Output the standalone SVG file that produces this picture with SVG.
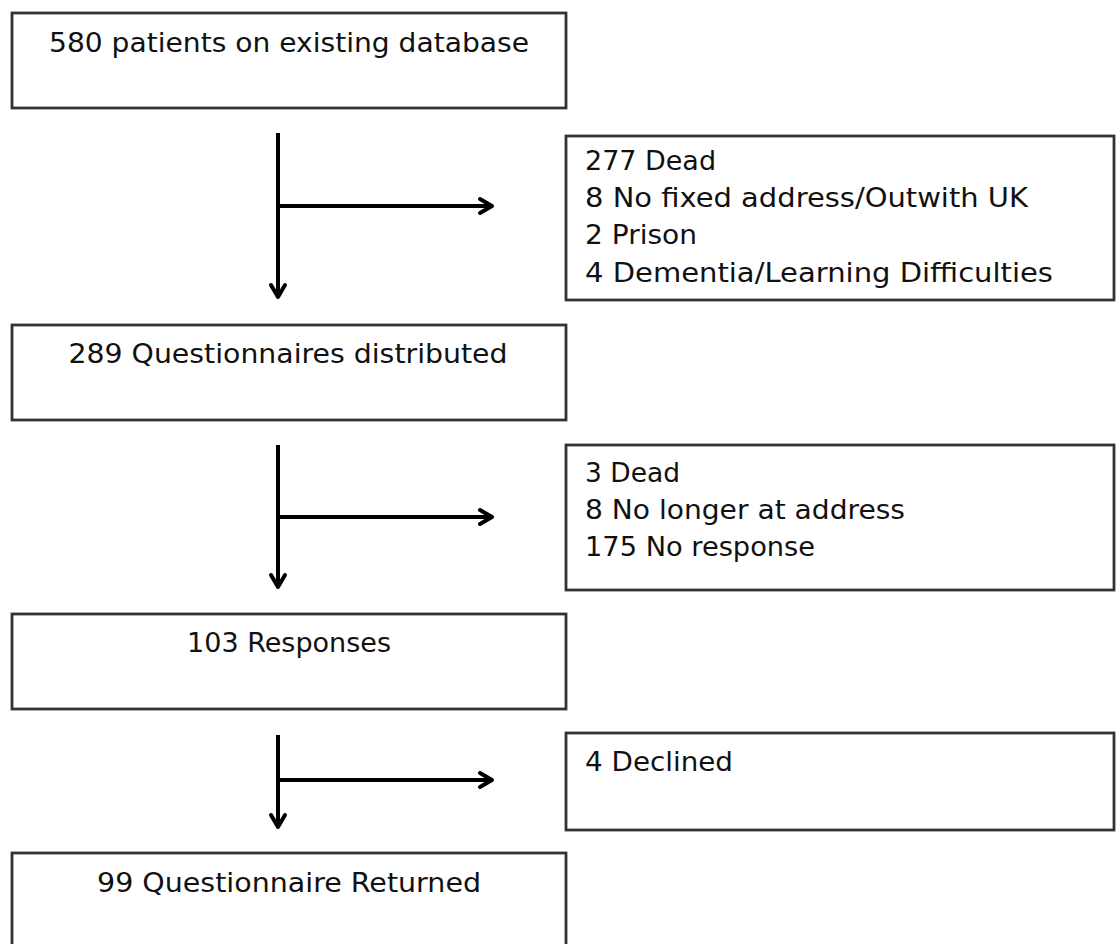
<svg xmlns="http://www.w3.org/2000/svg" width="1116" height="944" viewBox="0 0 1116 944">
<style>
.box{fill:#fff;stroke:#333;stroke-width:2.8}
.t{font-family:"DejaVu Sans",sans-serif;font-size:26px;fill:#111}
.c{text-anchor:middle}
.ln{stroke:#000;stroke-width:4;fill:none}
</style>
<defs>
<marker id="ah" viewBox="0 0 20 20" refX="16" refY="10" markerWidth="20" markerHeight="20" markerUnits="userSpaceOnUse" orient="auto">
<path d="M4,3 L16,10 L4,17" fill="none" stroke="#000" stroke-width="4" stroke-linecap="round" stroke-linejoin="round"/>
</marker>
</defs>
<rect width="1116" height="944" fill="#fff"/>
<g id="connectors">
<line class="ln" x1="278" y1="133" x2="278" y2="297" marker-end="url(#ah)"/>
<line class="ln" x1="278" y1="206" x2="492" y2="206" marker-end="url(#ah)"/>
<line class="ln" x1="278" y1="445" x2="278" y2="587" marker-end="url(#ah)"/>
<line class="ln" x1="278" y1="517" x2="492" y2="517" marker-end="url(#ah)"/>
<line class="ln" x1="278" y1="735" x2="278" y2="827" marker-end="url(#ah)"/>
<line class="ln" x1="278" y1="780" x2="492" y2="780" marker-end="url(#ah)"/>
</g>
<g id="n1">
<rect class="box" x="12" y="13" width="554" height="95"/>
<text class="t c" x="289" y="52" textLength="480" lengthAdjust="spacingAndGlyphs">580 patients on existing database</text>
</g>
<g id="n2">
<rect class="box" x="566" y="136" width="548" height="164"/>
<text class="t" x="585" y="170" textLength="131" lengthAdjust="spacingAndGlyphs">277 Dead</text>
<text class="t" x="585" y="207" textLength="443" lengthAdjust="spacingAndGlyphs">8 No fixed address/Outwith UK</text>
<text class="t" x="585" y="244" textLength="112" lengthAdjust="spacingAndGlyphs">2 Prison</text>
<text class="t" x="585" y="282" textLength="468" lengthAdjust="spacingAndGlyphs">4 Dementia/Learning Difficulties</text>
</g>
<g id="n3">
<rect class="box" x="12" y="325" width="554" height="95"/>
<text class="t c" x="288" y="363" textLength="439" lengthAdjust="spacingAndGlyphs">289 Questionnaires distributed</text>
</g>
<g id="n4">
<rect class="box" x="566" y="445" width="548" height="145"/>
<text class="t" x="585" y="482" textLength="95" lengthAdjust="spacingAndGlyphs">3 Dead</text>
<text class="t" x="585" y="519" textLength="320" lengthAdjust="spacingAndGlyphs">8 No longer at address</text>
<text class="t" x="585" y="556" textLength="230" lengthAdjust="spacingAndGlyphs">175 No response</text>
</g>
<g id="n5">
<rect class="box" x="12" y="614" width="554" height="95"/>
<text class="t c" x="289" y="652" textLength="204" lengthAdjust="spacingAndGlyphs">103 Responses</text>
</g>
<g id="n6">
<rect class="box" x="566" y="733" width="548" height="97"/>
<text class="t" x="585" y="771" textLength="148" lengthAdjust="spacingAndGlyphs">4 Declined</text>
</g>
<g id="n7">
<rect class="box" x="12" y="853" width="554" height="100"/>
<text class="t c" x="289" y="892" textLength="384" lengthAdjust="spacingAndGlyphs">99 Questionnaire Returned</text>
</g>
</svg>
